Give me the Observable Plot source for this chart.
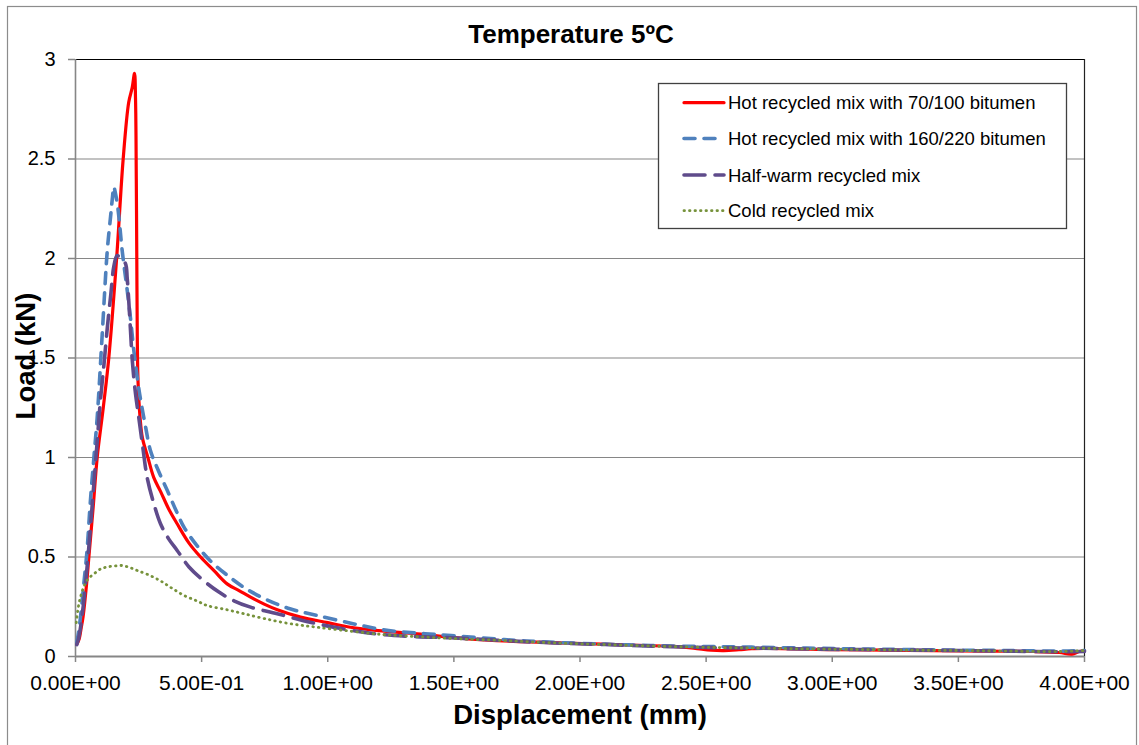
<!DOCTYPE html>
<html>
<head>
<meta charset="utf-8">
<script src="https://cdn.jsdelivr.net/npm/d3@7"></script>
<script src="https://cdn.jsdelivr.net/npm/@observablehq/plot@0.6"></script>
<style>
  body { margin: 0; background: #fff; }
  #chart { width: 1139px; height: 745px; }
</style>
</head>
<body>
<div id="chart"></div>
<script>
// ---- Data ----
const chartTitle = "Temperature 5ºC";
const xLabel = "Displacement (mm)";
const yLabel = "Load (kN)";

const seriesNames = [
  "Hot recycled mix with 70/100 bitumen",
  "Hot recycled mix with 160/220 bitumen",
  "Half-warm recycled mix",
  "Cold recycled mix"
];

const hot70Disp = [0.007,0.015,0.022,0.03,0.044,0.053,0.07,0.086,0.11,0.132,0.163,0.189,0.211,0.225,0.234,0.238,0.241,0.243,0.245,0.248,0.256,0.265,0.287,0.31,0.337,0.37,0.403,0.45,0.496,0.55,0.601,0.65,0.694,0.75,0.8,0.892,1.0,1.09,1.2,1.355,1.5,1.62,1.8,2.01,2.2,2.35,2.45,2.52,2.57,2.63,2.68,2.8,3.0,3.2,3.4,3.6,3.8,3.9,3.95,3.98,4.0];
const hot70Load = [0.065,0.09,0.14,0.2,0.365,0.5,0.75,1.0,1.25,1.5,2.0,2.5,2.785,2.86,2.93,2.8,2.4,2.0,1.6,1.38,1.2,1.1,1.0,0.9,0.83,0.74,0.667,0.57,0.5,0.43,0.365,0.33,0.298,0.262,0.235,0.198,0.17,0.147,0.13,0.114,0.095,0.084,0.073,0.065,0.057,0.052,0.042,0.032,0.03,0.034,0.039,0.04,0.035,0.032,0.03,0.027,0.025,0.02,0.012,0.025,0.03];

const hot160Disp = [0.005,0.012,0.02,0.033,0.045,0.059,0.073,0.086,0.106,0.126,0.139,0.146,0.152,0.158,0.165,0.172,0.185,0.205,0.218,0.231,0.245,0.258,0.277,0.297,0.33,0.364,0.4,0.43,0.48,0.535,0.6,0.667,0.75,0.85,0.958,1.1,1.22,1.35,1.49,1.7,1.88,2.1,2.28,2.5,2.68,2.9,3.1,3.3,3.5,3.7,3.9,4.0];
const hot160Load = [0.07,0.12,0.2,0.366,0.52,0.78,1.0,1.2,1.62,2.04,2.21,2.3,2.36,2.33,2.28,2.21,2.04,1.84,1.7,1.54,1.4,1.29,1.16,1.035,0.93,0.834,0.73,0.65,0.56,0.48,0.41,0.348,0.29,0.24,0.206,0.165,0.134,0.118,0.105,0.085,0.072,0.062,0.055,0.05,0.047,0.042,0.038,0.035,0.032,0.03,0.027,0.03];

const halfDisp = [0.005,0.012,0.02,0.033,0.046,0.06,0.073,0.086,0.099,0.113,0.126,0.14,0.152,0.165,0.18,0.198,0.205,0.211,0.218,0.225,0.238,0.251,0.267,0.284,0.31,0.337,0.37,0.403,0.45,0.509,0.567,0.628,0.694,0.8,0.93,1.1,1.22,1.35,1.49,1.7,1.9,2.1,2.3,2.5,2.7,2.9,3.1,3.3,3.5,3.7,3.9,4.0];
const halfLoad = [0.06,0.09,0.147,0.28,0.45,0.66,0.87,1.08,1.29,1.47,1.65,1.82,1.96,2.015,2.0,1.975,1.9,1.79,1.64,1.49,1.32,1.2,1.05,0.9,0.77,0.667,0.59,0.533,0.45,0.38,0.325,0.28,0.248,0.215,0.172,0.13,0.11,0.1,0.094,0.08,0.068,0.06,0.052,0.045,0.042,0.038,0.035,0.032,0.03,0.027,0.024,0.025];

const coldDisp = [0.003,0.01,0.02,0.033,0.05,0.073,0.1,0.126,0.155,0.185,0.215,0.245,0.29,0.337,0.38,0.43,0.48,0.522,0.6,0.667,0.75,0.85,0.958,1.1,1.22,1.35,1.5,1.7,1.9,2.1,2.3,2.5,2.7,2.9,3.1,3.3,3.5,3.7,3.9,4.0];
const coldLoad = [0.17,0.24,0.3,0.35,0.39,0.415,0.44,0.45,0.455,0.457,0.447,0.432,0.41,0.38,0.345,0.307,0.28,0.256,0.235,0.215,0.19,0.165,0.147,0.126,0.11,0.1,0.09,0.08,0.068,0.06,0.052,0.046,0.042,0.038,0.035,0.032,0.03,0.027,0.025,0.03];

const xTicks = [0,0.5,1,1.5,2,2.5,3,3.5,4];
const xTickLabels = ["0.00E+00","5.00E-01","1.00E+00","1.50E+00","2.00E+00","2.50E+00","3.00E+00","3.50E+00","4.00E+00"];
const yTicks = [0,0.5,1,1.5,2,2.5,3];
const yTickLabels = ["0","0.5","1","1.5","2","2.5","3"];

// ---- Styles ----
const seriesStyles = [
  {stroke: "#FF0000", strokeWidth: 3.2, strokeDasharray: null, strokeLinecap: "round"},
  {stroke: "#4F81BD", strokeWidth: 3.6, strokeDasharray: "11,9", strokeLinecap: "round"},
  {stroke: "#5F4B8B", strokeWidth: 3.6, strokeDasharray: "21,10", strokeLinecap: "round"},
  {stroke: "#77933C", strokeWidth: 2.8, strokeDasharray: "0.5,5", strokeLinecap: "round"}
];

const seriesX = [hot70Disp, hot160Disp, halfDisp, coldDisp];
const seriesY = [hot70Load, hot160Load, halfLoad, coldLoad];
const tables = seriesX.map((xs, s) => xs.map((x, i) => ({series: seriesNames[s], x, y: seriesY[s][i]})));

const gridColor = "#868686";

const lineMarks = tables.map((t, s) => Plot.line(t, {
  x: "x", y: "y",
  curve: "catmull-rom",
  stroke: seriesStyles[s].stroke,
  strokeWidth: seriesStyles[s].strokeWidth,
  strokeDasharray: seriesStyles[s].strokeDasharray,
  strokeLinecap: seriesStyles[s].strokeLinecap,
  strokeLinejoin: "round"
}));

const svgEl = Plot.plot({
  width: 1139,
  height: 745,
  marginLeft: 75,
  marginRight: 55,
  marginTop: 59,
  marginBottom: 89,
  x: {domain: [0, 4]},
  y: {domain: [0, 3]},
  style: {fontFamily: "'Liberation Sans', Arial, sans-serif", background: "white", color: "black", overflow: "visible"},
  marks: [
    Plot.ruleY(yTicks.filter(v => v > 0 && v < 3), {stroke: gridColor, strokeWidth: 1.2}),
    Plot.ruleY([3], {stroke: "#000", strokeWidth: 1.2}),
    Plot.ruleX([4], {stroke: "#222", strokeWidth: 1.2}),
    Plot.axisX({
      ticks: xTicks,
      tickFormat: d => xTickLabels[xTicks.indexOf(d)],
      tickSize: 6, tickPadding: 13, fontSize: 21,
      stroke: gridColor, strokeWidth: 1.5, fill: "#000", label: null
    }),
    Plot.axisY({
      ticks: yTicks,
      tickFormat: d => yTickLabels[yTicks.indexOf(d)],
      tickSize: 7, tickPadding: 13, fontSize: 20,
      stroke: gridColor, strokeWidth: 1.5, fill: "#000", label: null
    }),
    Plot.ruleY([0], {stroke: gridColor, strokeWidth: 2.2}),
    Plot.ruleX([0], {stroke: gridColor, strokeWidth: 1.6}),
    ...lineMarks
  ]
});

document.getElementById("chart").appendChild(svgEl);
const svg = d3.select(svgEl);
const font = "'Liberation Sans', Arial, sans-serif";

// outer chart border
svg.insert("rect", ":first-child")
  .attr("x", 7.5).attr("y", 6.5).attr("width", 1129).attr("height", 750)
  .attr("fill", "white").attr("stroke", "#8c8c8c").attr("stroke-width", 1.2);

// title
svg.append("text").text(chartTitle)
  .attr("x", 571).attr("y", 43).attr("text-anchor", "middle")
  .attr("font-family", font).attr("font-weight", "bold").attr("font-size", 26).attr("fill", "#000");

// x label
svg.append("text").text(xLabel)
  .attr("x", 580).attr("y", 724).attr("text-anchor", "middle")
  .attr("font-family", font).attr("font-weight", "bold").attr("font-size", 27.5).attr("fill", "#000");

// y label
svg.append("text").text(yLabel)
  .attr("transform", "translate(35,356) rotate(-90)").attr("text-anchor", "middle")
  .attr("font-family", font).attr("font-weight", "bold").attr("font-size", 27.5).attr("fill", "#000");

// legend
const lg = svg.append("g");
lg.append("rect").attr("x", 658.5).attr("y", 83.5).attr("width", 408).attr("height", 145)
  .attr("fill", "white").attr("stroke", "#404040").attr("stroke-width", 1.3);
const rowY = [102.7, 138.5, 175, 210.7];
seriesNames.forEach((name, i) => {
  const st = seriesStyles[i];
  lg.append("line").attr("x1", 684).attr("x2", 724).attr("y1", rowY[i]).attr("y2", rowY[i])
    .attr("stroke", st.stroke).attr("stroke-width", st.strokeWidth)
    .attr("stroke-dasharray", st.strokeDasharray).attr("stroke-linecap", st.strokeLinecap);
  lg.append("text").text(name).attr("x", 728).attr("y", rowY[i] + 6.6)
    .attr("text-anchor", "start")
    .attr("font-family", font).attr("font-size", 18.5).attr("fill", "#000");
});
</script>
</body>
</html>
